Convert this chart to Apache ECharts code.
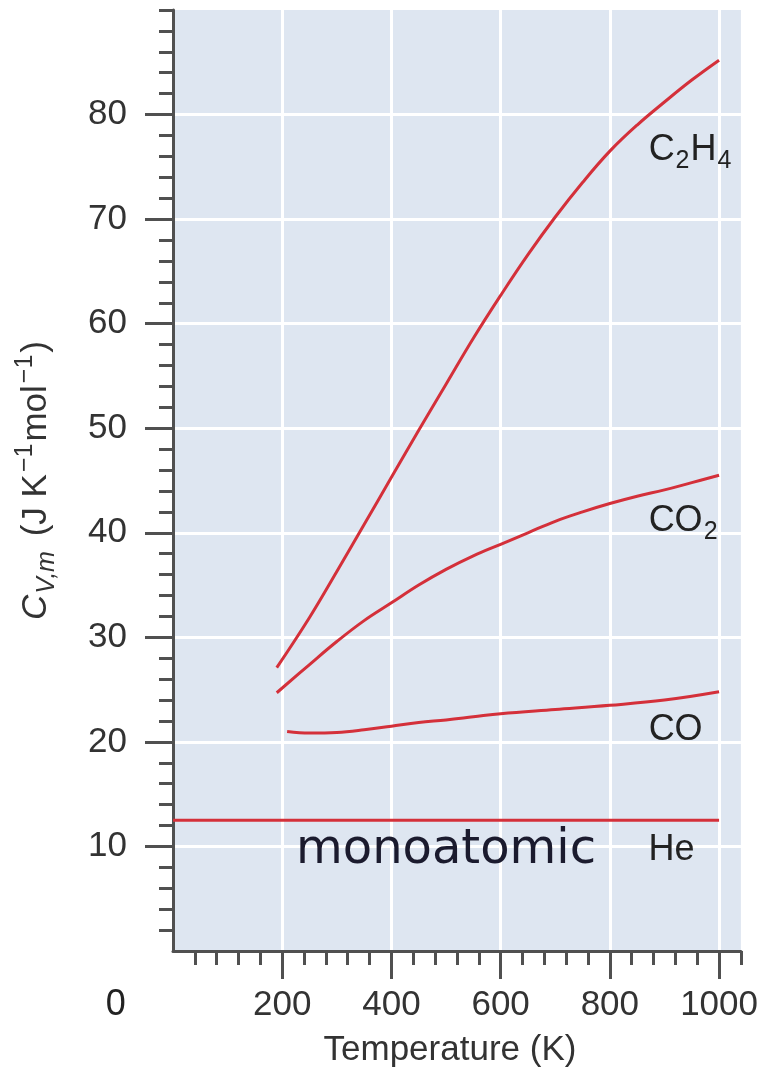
<!DOCTYPE html>
<html>
<head>
<meta charset="utf-8">
<script src="https://cdn.jsdelivr.net/npm/echarts/dist/echarts.min.js"></script>
<style>
html, body { margin: 0; padding: 0; background: #fff; }
#main { width: 761px; height: 1078px; }
</style>
</head>
<body>
<div id="main"></div>
<script>
// molar heat capacity at constant volume
var tC2H4 = [190, 250, 300, 350, 400, 450, 500, 550, 600, 650, 700, 750, 800, 850, 900, 950, 1000];
var cvC2H4 = [27.1, 31.9, 36.3, 40.8, 45.3, 49.8, 54.2, 58.6, 62.7, 66.6, 70.2, 73.5, 76.5, 79.0, 81.2, 83.3, 85.2];

var tCO2 = [190, 250, 300, 350, 400, 450, 500, 550, 600, 650, 700, 750, 800, 850, 900, 950, 1000];
var cvCO2 = [24.7, 27.4, 29.6, 31.6, 33.3, 35.0, 36.5, 37.8, 38.9, 40.0, 41.1, 42.0, 42.8, 43.5, 44.1, 44.8, 45.5];

var tCO = [209, 250, 300, 350, 400, 450, 500, 550, 600, 700, 800, 900, 1000];
var cvCO = [21.0, 20.85, 20.9, 21.15, 21.5, 21.85, 22.1, 22.4, 22.7, 23.1, 23.5, 24.0, 24.8];

var tHe = [0, 1000];
var cvHe = [12.5, 12.5];

// tick labels
var xLabels = [200, 400, 600, 800, 1000];
var yLabels = [10, 20, 30, 40, 50, 60, 70, 80];

// minor ticks every 40 K and every 2 units
var xMinor = [], yMinor = [];
for (var v = 40; v <= 1040; v += 40) xMinor.push(v);
for (var w = 2; w <= 90; w += 2) yMinor.push(w);

function pairs(xs, ys) {
    var out = [];
    for (var i = 0; i < xs.length; i++) out.push([xs[i], ys[i]]);
    return out;
}

var font = 'Liberation Sans';
var red = '#d4303a';
var axisGrey = '#505050';

function curve(name, xs, ys) {
    return {
        name: name,
        type: 'line',
        data: pairs(xs, ys),
        smooth: 0.4,
        showSymbol: false,
        silent: true,
        lineStyle: { color: red, width: 3 }
    };
}

var chart = echarts.init(document.getElementById('main'));
option = {
    animation: false,
    grid: {
        left: 173, top: 10, right: 16, bottom: 127,
        show: true,
        backgroundColor: '#dee6f1',
        borderWidth: 0
    },
    xAxis: [
        {
            type: 'value',
            min: 0, max: 1040, interval: 200,
            position: 'bottom',
            axisLine: { lineStyle: { color: axisGrey, width: 3 } },
            axisTick: { customValues: xLabels, length: 28, lineStyle: { color: axisGrey, width: 3 } },
            axisLabel: {
                customValues: xLabels, margin: 37, fontSize: 35, fontFamily: font, color: '#333',
                formatter: function (val) { return String(val); }
            },
            splitLine: { show: true, lineStyle: { color: '#fff', width: 3 } },
            name: 'Temperature (K)',
            nameLocation: 'middle',
            nameGap: 82,
            nameTextStyle: { fontSize: 35, fontFamily: font, color: '#333', padding: [0, 14, 0, 0] }
        },
        {
            type: 'value',
            min: 0, max: 1040, interval: 40,
            position: 'bottom',
            axisLine: { show: false },
            axisTick: { customValues: xMinor, length: 14, lineStyle: { color: axisGrey, width: 3 } },
            axisLabel: { show: false },
            splitLine: { show: false }
        }
    ],
    yAxis: [
        {
            type: 'value',
            min: 0, max: 90, interval: 10,
            position: 'left',
            axisLine: { show: true, lineStyle: { color: axisGrey, width: 3 } },
            axisTick: { show: true, customValues: yLabels, length: 28, lineStyle: { color: axisGrey, width: 3 } },
            axisLabel: { customValues: yLabels, margin: 46, fontSize: 35, fontFamily: font, color: '#333' },
            splitLine: { show: true, lineStyle: { color: '#fff', width: 3 } },
            name: '{i|C}{is|V,m}{n| (J K}{sup|\u22121}{n|mol}{sup|\u22121}{n|)}',
            nameLocation: 'middle',
            nameRotate: 90,
            nameGap: 115,
            nameTextStyle: {
                color: '#333',
                rich: {
                    n: { fontSize: 35, fontFamily: font, color: '#333', lineHeight: 44 },
                    i: { fontSize: 35, fontFamily: font, fontStyle: 'italic', color: '#333', lineHeight: 44 },
                    is: { fontSize: 25, fontFamily: font, fontStyle: 'italic', color: '#333', lineHeight: 22, padding: [22, 5, 0, 1] },
                    sup: { fontSize: 25, fontFamily: font, color: '#333', lineHeight: 22, padding: [0, 2, 22, 2] }
                }
            }
        },
        {
            type: 'value',
            min: 0, max: 90, interval: 2,
            position: 'left',
            axisLine: { show: false },
            axisTick: { show: true, customValues: yMinor, length: 14, lineStyle: { color: axisGrey, width: 3 } },
            axisLabel: { show: false },
            splitLine: { show: false }
        }
    ],
    series: [
        curve('C2H4', tC2H4, cvC2H4),
        curve('CO2', tCO2, cvCO2),
        curve('CO', tCO, cvCO),
        curve('He', tHe, cvHe)
    ]
};
chart.setOption(option);

// curve labels, anchored in data coordinates (T, Cv)
var labelRich = {
    n: { fontSize: 36, fontFamily: font, fill: '#222', lineHeight: 44 },
    s: { fontSize: 25, fontFamily: font, fill: '#222', lineHeight: 22, padding: [22, 1, 0, 1] }
};
var notes = [
    { at: [871, 76.6], text: '{n|C}{s|2}{n|H}{s|4}', align: 'left' },
    { at: [871, 41.1], text: '{n|CO}{s|2}', align: 'left' },
    { at: [871, 21.1], text: '{n|CO}', align: 'left' },
    { at: [913, 9.7], text: '{n|He}', align: 'center' },
    { at: [-105, -5.2], text: '{n|0}', align: 'center' }
];
var graphics = [];
notes.forEach(function (d) {
    var p = chart.convertToPixel({ gridIndex: 0 }, d.at);
    graphics.push({
        type: 'text', x: p[0], y: p[1], silent: true,
        style: { text: d.text, rich: labelRich, fill: '#222', align: d.align, textAlign: d.align, verticalAlign: 'middle', textVerticalAlign: 'middle' }
    });
});
// "monoatomic" caption under the He line
var mp = chart.convertToPixel({ gridIndex: 0 }, [500, 9.6]);
graphics.push({
    type: 'text', x: mp[0], y: mp[1], silent: true,
    style: { text: 'monoatomic', fontSize: 48, fontFamily: 'DejaVu Sans', fill: '#1b1b2e', align: 'center', textAlign: 'center', verticalAlign: 'middle', textVerticalAlign: 'middle' }
});
chart.setOption({ graphic: graphics });
</script>
</body>
</html>
